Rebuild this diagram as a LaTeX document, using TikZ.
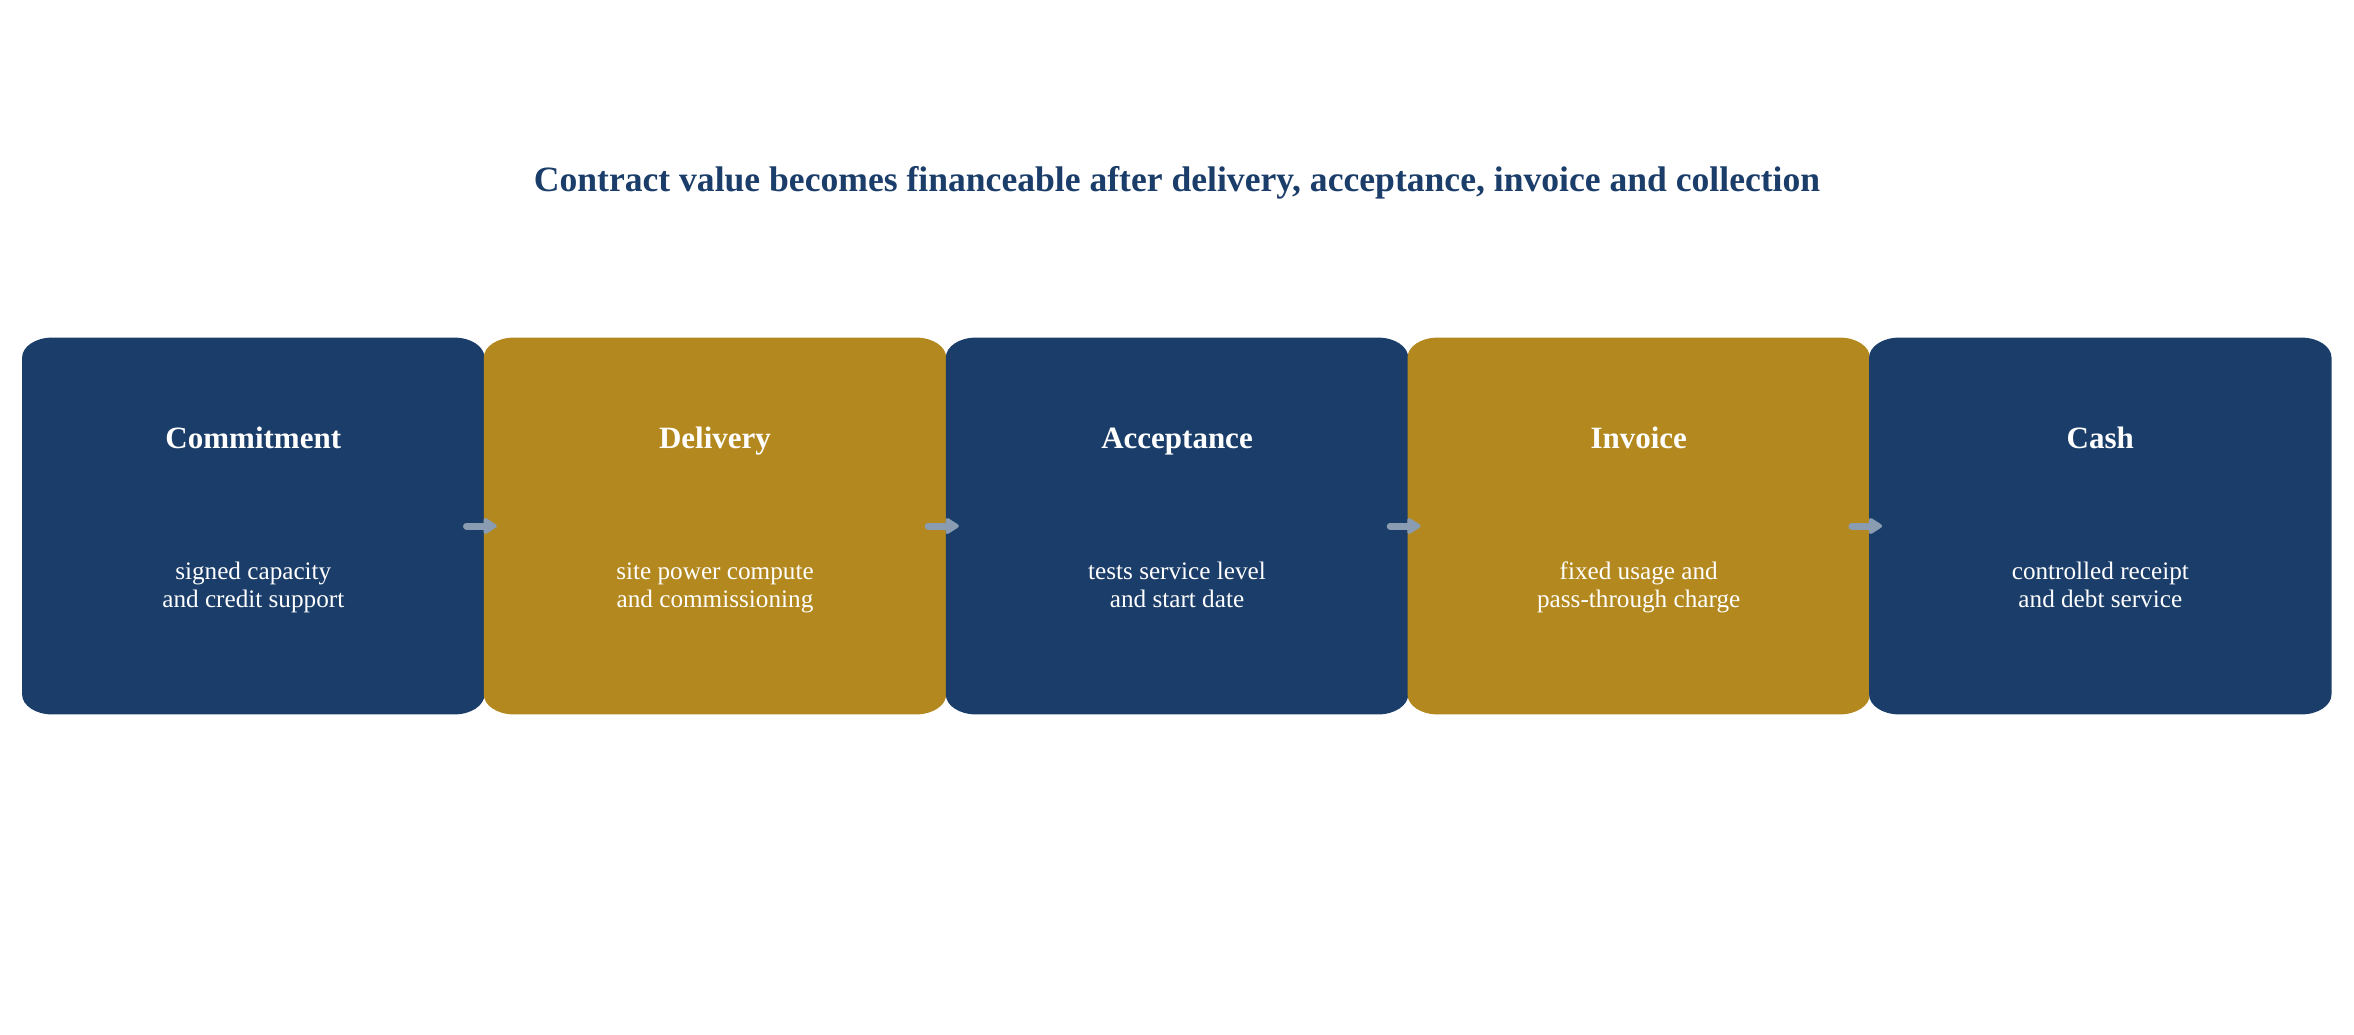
\documentclass[tikz,border=0pt]{standalone}
\usepackage{fontspec}
\setmainfont{Liberation Serif}
\usetikzlibrary{arrows.meta}
\definecolor{navy}{HTML}{1B3D69}
\definecolor{gold}{HTML}{B3891F}
\definecolor{arrowgrey}{HTML}{8A9CB2}
\tikzset{
  stagebox/.style={minimum width=230.8pt, minimum height=188pt, inner sep=0pt, draw=none},
  headtext/.style={text=white, font=\fontsize{15.5pt}{18pt}\selectfont\bfseries, anchor=base, inner sep=0pt},
  bodytext/.style={text=white, font=\fontsize{12.6pt}{13.6pt}\selectfont, align=center, anchor=base, inner sep=0pt},
  flowarrow/.style={draw=arrowgrey, line width=3.5pt, line cap=round, -{Triangle[length=7.5pt, width=9pt, round]}},
}
\newcommand{\ellfill}[2]{%
  \fill[#2] ([xshift=15pt]#1.north west) -- ([xshift=-15pt]#1.north east)
    arc[start angle=90, end angle=0, x radius=15pt, y radius=10pt]
    -- ([yshift=10pt]#1.south east)
    arc[start angle=0, end angle=-90, x radius=15pt, y radius=10pt]
    -- ([xshift=15pt]#1.south west)
    arc[start angle=270, end angle=180, x radius=15pt, y radius=10pt]
    -- ([yshift=-10pt]#1.north west)
    arc[start angle=180, end angle=90, x radius=15pt, y radius=10pt] -- cycle;}
\begin{document}
\begin{tikzpicture}[x=0.5pt, y=-0.5pt]
\useasboundingbox (0,0) rectangle (2354,1034);
\node[text=navy, font=\fontsize{17.8pt}{20pt}\selectfont\bfseries, anchor=base, inner sep=0pt] (title) at (1177,191)
  {Contract value becomes financeable after delivery, acceptance, invoice and collection};
\node[stagebox] (b1) at (253.3,526) {};
\node[stagebox] (b2) at (715,526) {};
\node[stagebox] (b3) at (1177,526) {};
\node[stagebox] (b4) at (1638.7,526) {};
\node[stagebox] (b5) at (2100.3,526) {};
\ellfill{b1}{navy}
\ellfill{b2}{gold}
\ellfill{b3}{navy}
\ellfill{b4}{gold}
\ellfill{b5}{navy}
\node[headtext] (h1) at (253.3,448) {Commitment};
\node[headtext] (h2) at (715,448) {Delivery};
\node[headtext] (h3) at (1177,448) {Acceptance};
\node[headtext] (h4) at (1638.7,448) {Invoice};
\node[headtext] (h5) at (2100.3,448) {Cash};
\node[bodytext] (t1) at (253.3,607) {signed capacity\\and credit support};
\node[bodytext] (t2) at (715,607) {site power compute\\and commissioning};
\node[bodytext] (t3) at (1177,607) {tests service level\\and start date};
\node[bodytext] (t4) at (1638.7,607) {fixed usage and\\pass-through charge};
\node[bodytext] (t5) at (2100.3,607) {controlled receipt\\and debt service};
\draw[flowarrow] ([xshift=-9pt]b1.east) -- ([xshift=6.5pt]b2.west);
\draw[flowarrow] ([xshift=-9pt]b2.east) -- ([xshift=6.5pt]b3.west);
\draw[flowarrow] ([xshift=-9pt]b3.east) -- ([xshift=6.5pt]b4.west);
\draw[flowarrow] ([xshift=-9pt]b4.east) -- ([xshift=6.5pt]b5.west);
\end{tikzpicture}
\end{document}
